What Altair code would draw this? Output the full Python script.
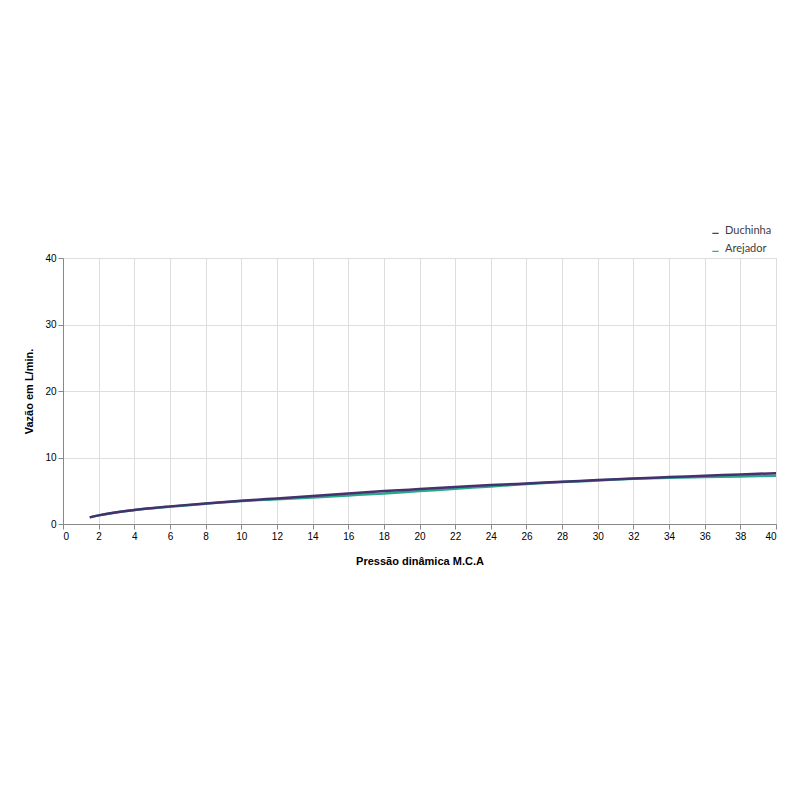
import altair as alt
import pandas as pd

pressao = [1.5, 2, 4, 6, 8, 10, 12, 14, 16, 18, 20, 22, 24, 26, 28, 30, 32, 34, 36, 38, 40]
duchinha = [1.0, 1.3, 2.1, 2.65, 3.1, 3.5, 3.85, 4.2, 4.6, 4.95, 5.25, 5.55, 5.85, 6.1, 6.35, 6.6, 6.85, 7.05, 7.25, 7.45, 7.65]
arejador = [1.0, 1.3, 2.1, 2.6, 3.05, 3.45, 3.72, 4.0, 4.3, 4.6, 4.95, 5.3, 5.65, 6.0, 6.3, 6.55, 6.8, 6.95, 7.05, 7.15, 7.25]
series = ["Duchinha", "Arejador"]
colors = ["#46306e", "#2aa88c"]

rows = []
# Arejador first so Duchinha is drawn on top
for name, vals in [("Arejador", arejador), ("Duchinha", duchinha)]:
    for x, y in zip(pressao, vals):
        rows.append({"x": x, "y": y, "s": name})
df = pd.DataFrame(rows)

font = "Lato"
chart = alt.Chart(df).mark_line(strokeWidth=2.5, interpolate="monotone").encode(
    x=alt.X("x:Q", scale=alt.Scale(domain=[0, 40], nice=False),
            axis=alt.Axis(title="Pressão dinâmica M.C.A", values=list(range(0, 41, 2)),
                          titlePadding=14)),
    y=alt.Y("y:Q", scale=alt.Scale(domain=[0, 40], nice=False),
            axis=alt.Axis(title="Vazão em L/min.", values=[0, 10, 20, 30, 40], titlePadding=10)),
    color=alt.Color("s:N", scale=alt.Scale(domain=series, range=colors),
                    legend=alt.Legend(title=None, orient="none", legendX=647, legendY=-33,
                                      symbolType="M-1,0.9L1,0.9", symbolSize=40,
                                      symbolStrokeWidth=1.2, labelFontSize=11,
                                      labelFont=font, labelColor="#404040", rowPadding=6)),
).properties(width=713, height=266, padding={"left": 15, "top": 217, "right": 0, "bottom": 10}).configure_axis(
    grid=True, gridColor="#c4c4c4", gridWidth=1, domainColor="#a0a0a0",
    tickColor="#a0a0a0", tickSize=4, labelFont=font, labelFontSize=11, labelColor="#404040",
    titleFont=font, titleFontSize=10, titleFontWeight="bold", titleColor="#202020", labelPadding=4,
).configure_view(stroke="#c4c4c4").configure(background="white")

chart.save("out.html", embed_options={"renderer": "svg", "actions": False})
